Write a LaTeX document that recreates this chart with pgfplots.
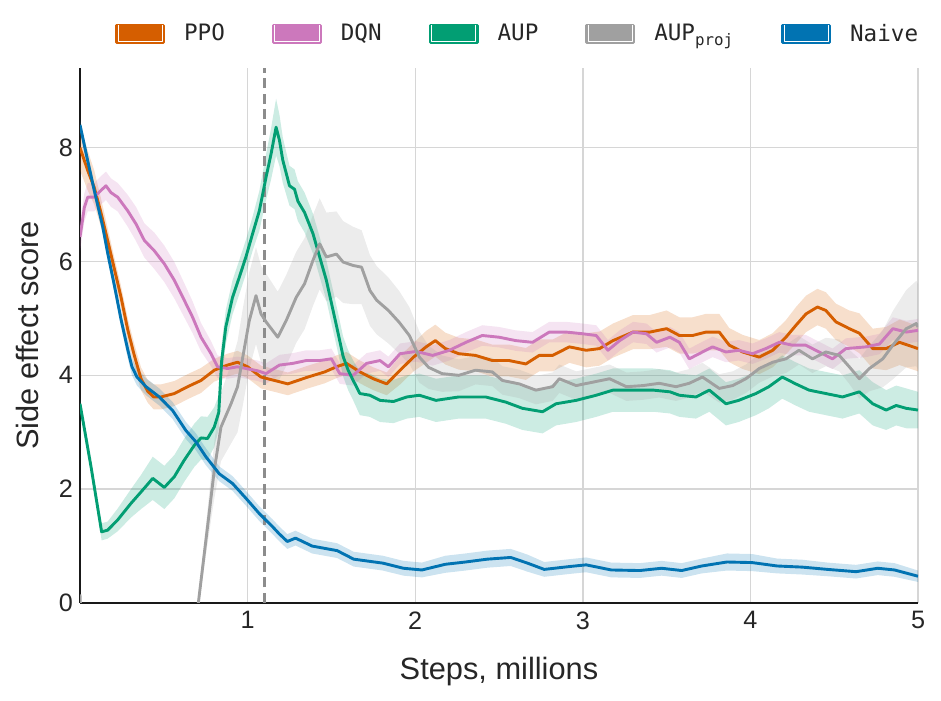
\documentclass[border=0pt]{standalone}
\usepackage{fontspec}
\setmainfont{Liberation Sans}
\newfontfamily\legfont{DejaVu Sans Mono}
\usepackage{pgfplots}
\pgfplotsset{compat=1.18}
\usepackage{pgfplotstable}
\usepgfplotslibrary{fillbetween}
\definecolor{cPPO}{HTML}{D55E00}
\definecolor{cDQN}{HTML}{CC78BC}
\definecolor{cAUP}{HTML}{029E73}
\definecolor{cPROJ}{HTML}{A0A0A0}
\definecolor{cNAIVE}{HTML}{0173B2}
\definecolor{textc}{HTML}{262626}
\definecolor{gridc}{HTML}{D6D6D6}
\definecolor{dashc}{HTML}{8C8C8C}

\pgfplotstableread{
x y e
0.000 8.00 0.40
0.046 7.60 0.35
0.085 7.30 0.30
0.125 6.86 0.25
0.165 6.37 0.22
0.205 5.87 0.20
0.245 5.37 0.20
0.285 4.80 0.20
0.324 4.35 0.20
0.364 3.94 0.20
0.404 3.72 0.20
0.440 3.62 0.22
0.483 3.62 0.22
0.563 3.68 0.22
0.642 3.80 0.22
0.722 3.91 0.22
0.801 4.09 0.20
0.880 4.18 0.20
0.940 4.23 0.20
1.000 4.15 0.20
1.080 3.97 0.20
1.160 3.91 0.20
1.240 3.85 0.20
1.360 3.97 0.20
1.460 4.06 0.20
1.530 4.15 0.20
1.590 4.21 0.20
1.670 4.06 0.20
1.750 3.94 0.20
1.830 3.85 0.20
1.910 4.09 0.25
1.990 4.32 0.25
2.065 4.50 0.28
2.120 4.61 0.28
2.180 4.47 0.28
2.260 4.38 0.28
2.360 4.35 0.28
2.460 4.26 0.28
2.560 4.26 0.28
2.660 4.20 0.28
2.740 4.35 0.28
2.820 4.35 0.28
2.920 4.50 0.28
3.020 4.44 0.30
3.100 4.47 0.30
3.180 4.61 0.30
3.300 4.76 0.30
3.400 4.76 0.30
3.500 4.82 0.32
3.576 4.70 0.32
3.655 4.70 0.32
3.735 4.76 0.32
3.814 4.76 0.32
3.874 4.53 0.30
3.954 4.41 0.30
4.053 4.32 0.30
4.133 4.44 0.30
4.212 4.67 0.30
4.272 4.88 0.32
4.332 5.08 0.32
4.400 5.20 0.32
4.450 5.14 0.32
4.510 4.94 0.32
4.590 4.82 0.32
4.650 4.74 0.35
4.730 4.47 0.35
4.810 4.47 0.38
4.890 4.58 0.40
5.000 4.47 0.40
}\ppo

\pgfplotstableread{
x y e
0.000 6.43 0.25
0.026 6.95 0.25
0.046 7.13 0.25
0.085 7.13 0.25
0.125 7.25 0.25
0.155 7.33 0.25
0.185 7.21 0.25
0.225 7.13 0.25
0.285 6.89 0.28
0.334 6.66 0.30
0.384 6.37 0.30
0.443 6.19 0.32
0.503 5.96 0.32
0.563 5.67 0.32
0.622 5.32 0.30
0.672 5.02 0.28
0.722 4.67 0.25
0.782 4.38 0.22
0.821 4.15 0.20
0.880 4.12 0.18
0.940 4.15 0.18
0.990 4.12 0.18
1.060 4.08 0.18
1.110 4.03 0.18
1.190 4.18 0.18
1.270 4.21 0.18
1.350 4.26 0.18
1.430 4.26 0.18
1.500 4.29 0.18
1.550 4.03 0.18
1.630 4.00 0.18
1.710 4.21 0.18
1.790 4.26 0.18
1.840 4.15 0.18
1.910 4.38 0.18
2.005 4.42 0.18
2.104 4.35 0.18
2.204 4.44 0.18
2.303 4.58 0.18
2.400 4.70 0.18
2.500 4.67 0.18
2.600 4.61 0.18
2.700 4.58 0.18
2.800 4.76 0.18
2.900 4.76 0.18
3.000 4.73 0.18
3.080 4.70 0.18
3.150 4.44 0.18
3.220 4.61 0.18
3.300 4.76 0.18
3.380 4.73 0.18
3.440 4.58 0.18
3.520 4.67 0.18
3.576 4.58 0.18
3.635 4.29 0.18
3.714 4.41 0.18
3.774 4.50 0.18
3.854 4.41 0.18
3.930 4.44 0.18
4.013 4.38 0.18
4.092 4.47 0.18
4.172 4.58 0.18
4.250 4.53 0.18
4.330 4.53 0.18
4.410 4.41 0.18
4.490 4.29 0.18
4.570 4.47 0.18
4.690 4.50 0.18
4.770 4.55 0.18
4.850 4.82 0.20
4.930 4.76 0.20
5.000 4.79 0.20
}\dqn

\pgfplotstableread{
x y e
0.000 3.50 0.10
0.066 2.39 0.10
0.129 1.25 0.15
0.165 1.28 0.15
0.225 1.46 0.20
0.304 1.75 0.25
0.364 1.95 0.30
0.434 2.19 0.38
0.503 2.03 0.38
0.563 2.22 0.38
0.622 2.51 0.38
0.682 2.77 0.38
0.722 2.90 0.38
0.761 2.89 0.38
0.801 3.09 0.35
0.828 3.35 0.30
0.845 4.25 0.30
0.870 4.85 0.30
0.910 5.37 0.30
0.950 5.72 0.30
0.990 6.08 0.30
1.030 6.49 0.30
1.070 6.89 0.35
1.110 7.48 0.40
1.140 7.89 0.45
1.170 8.36 0.50
1.190 8.13 0.45
1.210 7.78 0.40
1.250 7.33 0.35
1.280 7.27 0.35
1.300 7.06 0.35
1.340 6.86 0.35
1.390 6.49 0.35
1.430 6.08 0.35
1.470 5.67 0.35
1.510 5.14 0.35
1.540 4.74 0.35
1.570 4.33 0.35
1.600 4.09 0.35
1.630 3.91 0.35
1.670 3.68 0.38
1.730 3.65 0.38
1.790 3.56 0.38
1.870 3.54 0.38
1.950 3.62 0.38
2.025 3.65 0.38
2.124 3.56 0.38
2.260 3.62 0.38
2.420 3.62 0.38
2.540 3.53 0.38
2.640 3.42 0.38
2.760 3.36 0.38
2.840 3.50 0.38
2.960 3.56 0.38
3.080 3.65 0.38
3.180 3.74 0.38
3.300 3.74 0.38
3.420 3.74 0.38
3.520 3.71 0.38
3.576 3.65 0.38
3.675 3.62 0.38
3.755 3.74 0.38
3.854 3.50 0.38
3.930 3.56 0.38
4.033 3.68 0.38
4.110 3.80 0.38
4.190 3.97 0.38
4.270 3.85 0.38
4.350 3.74 0.38
4.450 3.68 0.38
4.550 3.62 0.38
4.650 3.71 0.38
4.730 3.50 0.38
4.810 3.39 0.35
4.870 3.47 0.35
4.930 3.42 0.35
5.000 3.39 0.32
}\aup

\pgfplotstableread{
x y e
0.000 0.15 0.00
0.015 -1.00 0.00
0.680 -1.00 0.00
0.706 0.00 0.10
0.761 1.34 0.30
0.801 2.33 0.50
0.841 3.09 0.60
0.901 3.50 0.70
0.940 3.80 0.80
0.970 4.30 0.85
1.010 4.96 0.85
1.050 5.40 0.85
1.080 5.08 0.85
1.110 4.94 0.85
1.180 4.67 0.80
1.230 4.96 0.80
1.290 5.37 0.80
1.340 5.61 0.80
1.390 6.02 0.80
1.430 6.31 0.80
1.470 6.08 0.78
1.530 6.13 0.75
1.570 5.99 0.72
1.630 5.93 0.68
1.680 5.90 0.65
1.730 5.49 0.62
1.770 5.32 0.60
1.840 5.14 0.58
1.905 4.93 0.55
1.965 4.70 0.50
2.025 4.32 0.45
2.080 4.14 0.38
2.160 4.03 0.32
2.260 4.00 0.28
2.360 4.09 0.25
2.460 4.06 0.25
2.520 3.91 0.25
2.620 3.85 0.25
2.720 3.74 0.25
2.820 3.80 0.25
2.860 3.94 0.25
2.960 3.82 0.25
3.060 3.88 0.25
3.160 3.94 0.25
3.260 3.80 0.25
3.360 3.82 0.25
3.456 3.86 0.25
3.556 3.80 0.25
3.635 3.86 0.25
3.714 3.97 0.25
3.814 3.77 0.25
3.894 3.82 0.25
3.973 3.94 0.25
4.053 4.12 0.25
4.133 4.23 0.25
4.212 4.29 0.25
4.290 4.44 0.25
4.370 4.29 0.25
4.450 4.41 0.25
4.530 4.35 0.28
4.590 4.15 0.30
4.650 3.94 0.35
4.710 4.12 0.40
4.790 4.29 0.50
4.850 4.53 0.60
4.930 4.82 0.68
4.990 4.91 0.75
5.000 4.85 0.75
}\proj

\pgfplotstableread{
x y e
0.000 8.40 0.10
0.040 7.85 0.12
0.085 7.25 0.12
0.135 6.62 0.12
0.165 6.15 0.12
0.205 5.58 0.12
0.245 4.98 0.13
0.285 4.45 0.15
0.310 4.15 0.15
0.340 3.97 0.15
0.394 3.80 0.15
0.473 3.62 0.15
0.553 3.38 0.15
0.632 3.03 0.15
0.692 2.83 0.15
0.751 2.57 0.15
0.831 2.27 0.13
0.910 2.10 0.13
0.990 1.84 0.13
1.070 1.57 0.13
1.149 1.34 0.13
1.187 1.22 0.13
1.237 1.08 0.13
1.286 1.14 0.13
1.385 1.00 0.13
1.534 0.92 0.13
1.633 0.77 0.13
1.807 0.70 0.13
1.930 0.61 0.13
2.040 0.58 0.13
2.180 0.68 0.15
2.300 0.72 0.15
2.430 0.77 0.15
2.570 0.80 0.15
2.670 0.70 0.15
2.770 0.59 0.13
2.920 0.64 0.13
3.020 0.67 0.13
3.170 0.58 0.13
3.340 0.57 0.13
3.470 0.61 0.13
3.590 0.57 0.13
3.710 0.65 0.13
3.860 0.72 0.15
4.010 0.71 0.15
4.160 0.65 0.13
4.310 0.63 0.13
4.460 0.59 0.12
4.630 0.55 0.12
4.760 0.61 0.12
4.860 0.58 0.12
5.000 0.47 0.10
}\naive

\pgfplotsset{
  patchleg/.style={legend image code/.code={
    \fill[#1] (0pt,-4.25pt) rectangle (23.5pt,4.25pt);
    \draw[white, line width=0.35pt] (0.7pt,4.25pt) -- (0.7pt,-3.55pt) -- (22.8pt,-3.55pt) -- (22.8pt,4.25pt);
  }},
}

\begin{document}
\begin{tikzpicture}
\begin{axis}[
  scale only axis, width=419pt, height=267.5pt,
  xmin=0, xmax=5, ymin=0, ymax=9.4,
  xtick={1,2,3,4,5}, ytick={0,2,4,6,8},
  grid=major, major grid style={line width=0.7pt, color=gridc},
  axis x line*=bottom, axis y line*=left,
  axis line style={line width=1pt, color=black!90, -},
  major tick length=0pt,
  tick label style={font=\fontsize{12.6}{14}\selectfont, text=textc},
  xticklabel style={yshift=-0.8pt},
  /pgf/number format/assume math mode=true,
  xlabel={Steps, millions}, ylabel={Side effect score},
  label style={font=\fontsize{15.4}{18}\selectfont, text=textc},
  xlabel style={at={(axis description cs:0.5,0)}, anchor=base, yshift=-38.5pt},
  ylabel style={at={(axis description cs:-0.0501,0.5)}, anchor=base},
  legend columns=5,
  legend style={at={(axis description cs:0.042,1.0636)}, anchor=west,
    draw=none, fill=none, inner sep=0pt, outer sep=0pt,
    font=\legfont\fontsize{11.3}{13}\selectfont, text=textc,
    nodes={inner sep=0pt},
    /tikz/every odd column/.style={column sep=9.5pt},
    /tikz/every even column/.style={column sep=23.5pt}},
  line join=round,
]
% bands
\addplot[name path=ppoU, draw=none, forget plot] table[x=x, y expr=\thisrow{y}+\thisrow{e}] {\ppo};
\addplot[name path=ppoL, draw=none, forget plot] table[x=x, y expr=\thisrow{y}-\thisrow{e}] {\ppo};
\addplot[fill=cPPO, fill opacity=0.2, draw=none, forget plot] fill between[of=ppoU and ppoL];
\addplot[name path=dqnU, draw=none, forget plot] table[x=x, y expr=\thisrow{y}+\thisrow{e}] {\dqn};
\addplot[name path=dqnL, draw=none, forget plot] table[x=x, y expr=\thisrow{y}-\thisrow{e}] {\dqn};
\addplot[fill=cDQN, fill opacity=0.2, draw=none, forget plot] fill between[of=dqnU and dqnL];
\addplot[name path=aupU, draw=none, forget plot] table[x=x, y expr=\thisrow{y}+\thisrow{e}] {\aup};
\addplot[name path=aupL, draw=none, forget plot] table[x=x, y expr=\thisrow{y}-\thisrow{e}] {\aup};
\addplot[fill=cAUP, fill opacity=0.2, draw=none, forget plot] fill between[of=aupU and aupL];
\addplot[name path=projU, draw=none, forget plot] table[x=x, y expr=\thisrow{y}+\thisrow{e}] {\proj};
\addplot[name path=projL, draw=none, forget plot] table[x=x, y expr=\thisrow{y}-\thisrow{e}] {\proj};
\addplot[fill=cPROJ, fill opacity=0.2, draw=none, forget plot] fill between[of=projU and projL];
\addplot[name path=naiveU, draw=none, forget plot] table[x=x, y expr=\thisrow{y}+\thisrow{e}] {\naive};
\addplot[name path=naiveL, draw=none, forget plot] table[x=x, y expr=\thisrow{y}-\thisrow{e}] {\naive};
\addplot[fill=cNAIVE, fill opacity=0.2, draw=none, forget plot] fill between[of=naiveU and naiveL];
% dashed marker
\addplot[forget plot, color=dashc, line width=1.3pt, dash pattern=on 5pt off 2.8pt] coordinates {(1.1,0) (1.1,9.4)};
% lines
\addplot[cPPO, line width=1.45pt, patchleg=cPPO] table[x=x, y=y] {\ppo};
\addlegendentry{PPO}
\addplot[cDQN, line width=1.45pt, patchleg=cDQN] table[x=x, y=y] {\dqn};
\addlegendentry{DQN}
\addplot[cAUP, line width=1.45pt, patchleg=cAUP] table[x=x, y=y] {\aup};
\addlegendentry{AUP}
\addplot[cPROJ, line width=1.45pt, patchleg=cPROJ] table[x=x, y=y] {\proj};
\addlegendentry{AUP\textsubscript{proj}}
\addplot[cNAIVE, line width=1.45pt, patchleg=cNAIVE] table[x=x, y=y] {\naive};
\addlegendentry{Naive}
\end{axis}
\pgfresetboundingbox
\path[use as bounding box] ([shift={(-40pt,-49pt)}]current axis.south west) rectangle ([shift={(11.5pt,34pt)}]current axis.north east);
\end{tikzpicture}
\end{document}
